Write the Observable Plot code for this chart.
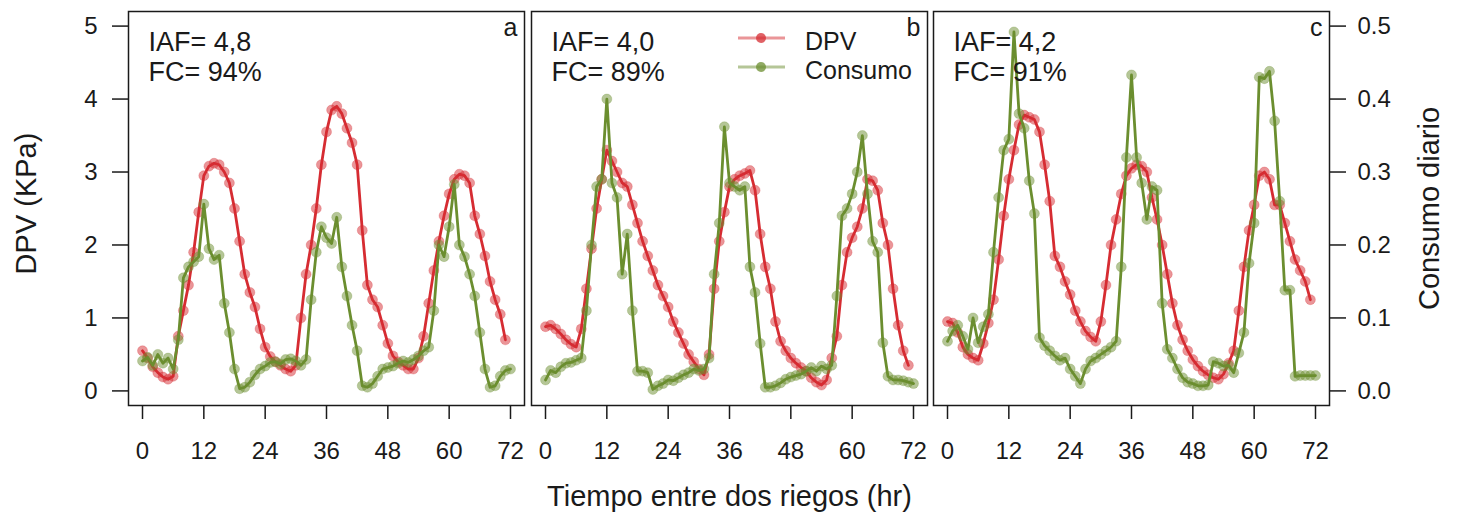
<!DOCTYPE html>
<html>
<head>
<meta charset="utf-8">
<script src="https://cdn.jsdelivr.net/npm/d3@7"></script>
<script src="https://cdn.jsdelivr.net/npm/@observablehq/plot@0.6"></script>
<style>
  html, body { margin: 0; padding: 0; background: #fff; }
  #wrap { position: relative; width: 1457px; height: 517px; overflow: hidden; font-family: "Liberation Sans", Arial, sans-serif; }
  #wrap svg { position: absolute; top: 0; }
</style>
</head>
<body>
<div id="wrap"></div>
<script>
// ---------------- data ----------------
const xTicks = [0, 12, 24, 36, 48, 60, 72];
const dpvTicks = [0, 1, 2, 3, 4, 5];
const dpvTickLabels = ["0", "1", "2", "3", "4", "5"];
const consumoTickLabels = ["0.0", "0.1", "0.2", "0.3", "0.4", "0.5"];
const panelLetters = ["a", "b", "c"];
const iafLabels = ["IAF= 4,8", "IAF= 4,0", "IAF= 4,2"];
const fcLabels = ["FC= 94%", "FC= 89%", "FC= 91%"];
const seriesNames = ["DPV", "Consumo"];

// DPV (KPa), hourly from hour 0
const dpvA = [0.55,0.45,0.33,0.25,0.19,0.16,0.2,0.75,1.1,1.45,
  1.9,2.45,2.95,3.08,3.12,3.1,3.0,2.85,2.5,2.05,
  1.6,1.35,1.15,0.85,0.6,0.47,0.4,0.35,0.3,0.27,
  0.35,1.0,1.6,2.0,2.5,3.1,3.55,3.85,3.9,3.8,
  3.6,3.4,3.1,2.2,1.45,1.25,1.15,0.9,0.65,0.48,
  0.4,0.35,0.3,0.3,0.45,0.75,1.2,1.65,2.05,2.4,
  2.7,2.9,2.97,2.95,2.85,2.4,2.15,1.85,1.5,1.25,
  1.05,0.7];
const dpvB = [0.88,0.9,0.85,0.78,0.7,0.64,0.6,0.85,1.4,1.95,
  2.5,2.9,3.3,3.15,3.0,2.85,2.8,2.55,2.3,2.05,
  1.85,1.65,1.45,1.3,1.15,0.95,0.8,0.65,0.5,0.4,
  0.3,0.22,0.5,1.4,2.05,2.45,2.8,2.9,2.95,2.98,
  3.02,2.75,2.15,1.7,1.4,0.95,0.68,0.55,0.45,0.38,
  0.32,0.27,0.18,0.12,0.08,0.15,0.45,0.75,1.45,1.9,
  2.1,2.25,2.5,2.9,2.88,2.75,2.3,2.0,1.4,0.9,
  0.55,0.35];
const dpvC = [0.95,0.93,0.8,0.6,0.5,0.45,0.42,0.65,0.93,1.25,
  1.8,2.4,2.9,3.3,3.65,3.78,3.75,3.72,3.55,3.1,
  2.6,1.85,1.7,1.5,1.32,1.1,0.95,0.82,0.74,0.68,
  0.95,1.45,2.0,2.35,2.7,2.95,3.05,3.1,3.08,3.0,
  2.65,2.35,2.0,1.6,1.2,0.9,0.7,0.55,0.43,0.34,
  0.27,0.22,0.18,0.16,0.23,0.38,0.55,1.1,1.7,2.2,
  2.55,2.95,3.0,2.9,2.55,2.55,2.3,2.05,1.8,1.65,
  1.5,1.25];

// Consumo diario, hourly from hour 0
const consumoA = [0.041,0.046,0.035,0.05,0.038,0.045,0.03,0.07,0.155,0.17,
  0.177,0.184,0.256,0.195,0.18,0.186,0.12,0.08,0.03,0.003,
  0.005,0.012,0.022,0.03,0.034,0.039,0.04,0.037,0.043,0.044,
  0.041,0.035,0.043,0.125,0.19,0.225,0.21,0.202,0.238,0.17,
  0.13,0.09,0.055,0.007,0.005,0.01,0.02,0.03,0.032,0.034,
  0.038,0.041,0.039,0.043,0.048,0.055,0.06,0.11,0.2,0.184,
  0.225,0.283,0.2,0.184,0.16,0.13,0.08,0.03,0.005,0.007,
  0.02,0.028,0.03];
const consumoB = [0.015,0.028,0.025,0.033,0.038,0.039,0.042,0.045,0.11,0.2,
  0.28,0.29,0.4,0.285,0.265,0.16,0.215,0.11,0.027,0.027,
  0.025,0.002,0.007,0.01,0.015,0.014,0.018,0.022,0.025,0.03,
  0.028,0.03,0.045,0.16,0.23,0.362,0.285,0.28,0.275,0.28,
  0.17,0.135,0.065,0.005,0.005,0.007,0.011,0.016,0.019,0.021,
  0.023,0.027,0.032,0.027,0.034,0.03,0.035,0.13,0.24,0.25,
  0.27,0.3,0.35,0.27,0.205,0.19,0.066,0.02,0.015,0.015,
  0.014,0.012,0.01];
const consumoC = [0.068,0.082,0.09,0.075,0.057,0.1,0.066,0.088,0.105,0.19,
  0.265,0.33,0.345,0.492,0.38,0.36,0.288,0.243,0.073,0.062,
  0.055,0.048,0.042,0.045,0.03,0.02,0.01,0.03,0.041,0.045,
  0.05,0.055,0.06,0.068,0.17,0.32,0.433,0.32,0.285,0.235,
  0.28,0.275,0.12,0.057,0.045,0.03,0.018,0.012,0.01,0.007,
  0.007,0.008,0.04,0.038,0.034,0.035,0.025,0.052,0.08,0.175,
  0.23,0.43,0.428,0.438,0.37,0.26,0.138,0.138,0.02,0.021,
  0.021,0.021,0.021];

// ---------------- style ----------------
const RED = "#d62c32";
const GREEN = "#6b8e2f";
const INK = "#1a1a1a";
const FONT = "'Liberation Sans', Arial, Helvetica, sans-serif";
const CONSUMO_FACTOR = 10; // secondary axis: 0.5 consumo == 5 KPa

const wrap = document.getElementById("wrap");

function panel(i, dpv, consumo, opts) {
  const red = dpv.map((v, h) => ({h, v}));
  const green = consumo.map((v, h) => ({h, v: v * CONSUMO_FACTOR}));
  const marks = [
    Plot.line(red, {x: "h", y: "v", stroke: RED, strokeWidth: 2.8}),
    Plot.dot(red, {x: "h", y: "v", r: 5, fill: RED, fillOpacity: 0.5, stroke: RED, strokeOpacity: 0.25, strokeWidth: 1}),
    Plot.line(green, {x: "h", y: "v", stroke: GREEN, strokeWidth: 2.8}),
    Plot.dot(green, {x: "h", y: "v", r: 5, fill: GREEN, fillOpacity: 0.5, stroke: GREEN, strokeOpacity: 0.25, strokeWidth: 1}),
    Plot.frame({stroke: INK, strokeWidth: 1.5}),
    Plot.axisX({ticks: xTicks, tickSize: 14, tickPadding: 22.5, fontSize: 24, strokeWidth: 1.5, stroke: INK, fill: INK, label: null}),
    Plot.text([iafLabels[i]], {frameAnchor: "top-left", dx: 20, dy: 30.5, lineAnchor: "middle", textAnchor: "start", fontSize: 27, fill: INK}),
    Plot.text([fcLabels[i]], {frameAnchor: "top-left", dx: 20, dy: 60.5, lineAnchor: "middle", textAnchor: "start", fontSize: 27, fill: INK}),
    Plot.text([panelLetters[i]], {frameAnchor: "top-right", dx: -7, dy: 16, lineAnchor: "middle", textAnchor: "end", fontSize: 25, fill: INK})
  ];
  if (opts.leftAxis) {
    marks.push(Plot.axisY({ticks: dpvTicks, tickFormat: d => dpvTickLabels[dpvTicks.indexOf(d)], tickSize: 16, tickPadding: 15, fontSize: 24, strokeWidth: 1.5, stroke: INK, fill: INK, label: null}));
    marks.push(Plot.text(["DPV (KPa)"], {frameAnchor: "left", dx: -102, dy: -5, rotate: -90, lineAnchor: "middle", textAnchor: "middle", fontSize: 29, fill: INK}));
  }
  if (opts.rightAxis) {
    marks.push(Plot.axisY({anchor: "right", ticks: dpvTicks, tickFormat: d => consumoTickLabels[dpvTicks.indexOf(d)], tickSize: 16, tickPadding: 12, fontSize: 24, strokeWidth: 1.5, stroke: INK, fill: INK, label: null}));
    marks.push(Plot.text(["Consumo diario"], {frameAnchor: "right", dx: 100, dy: 0, rotate: -90, lineAnchor: "middle", textAnchor: "middle", fontSize: 29, fill: INK}));
  }
  if (opts.xTitle) {
    marks.push(Plot.text(["Tiempo entre dos riegos (hr)"], {frameAnchor: "bottom", dy: 91, lineAnchor: "middle", textAnchor: "middle", fontSize: 29, fill: INK}));
  }
  const svg = Plot.plot({
    width: opts.width,
    height: 517,
    marginLeft: opts.mL,
    marginRight: opts.mR,
    marginTop: 11,
    marginBottom: 112,
    x: {domain: [-2.74, 74.74], axis: null},
    y: {domain: [-0.2, 5.2], axis: null},
    style: {background: "transparent", overflow: "visible", fontFamily: FONT, color: INK},
    marks
  });
  svg.style.left = opts.left + "px";
  wrap.appendChild(svg);
}

panel(0, dpvA, consumoA, {left: 0, width: 528, mL: 128, mR: 4, leftAxis: true});
panel(1, dpvB, consumoB, {left: 528, width: 402, mL: 3, mR: 3, xTitle: true});
panel(2, dpvC, consumoC, {left: 930, width: 527, mL: 3, mR: 128, rightAxis: true});

// legend (inside panel b, top right)
const leg = d3.select(wrap).append("svg")
  .attr("width", 200).attr("height", 70)
  .style("left", "728px").style("top", "8px").style("overflow", "visible");
[[RED, 30], [GREEN, 59]].forEach(([c, y], k) => {
  leg.append("line").attr("x1", 10).attr("x2", 57).attr("y1", y).attr("y2", y)
    .attr("stroke", c).attr("stroke-width", 3).attr("stroke-opacity", 0.5);
  leg.append("circle").attr("cx", 33).attr("cy", y).attr("r", 5)
    .attr("fill", c).attr("fill-opacity", 0.75);
  leg.append("text").attr("x", 77).attr("y", y + 12)
    .attr("font-family", FONT).attr("font-size", 25).attr("fill", INK)
    .text(seriesNames[k]);
});
</script>
</body>
</html>
